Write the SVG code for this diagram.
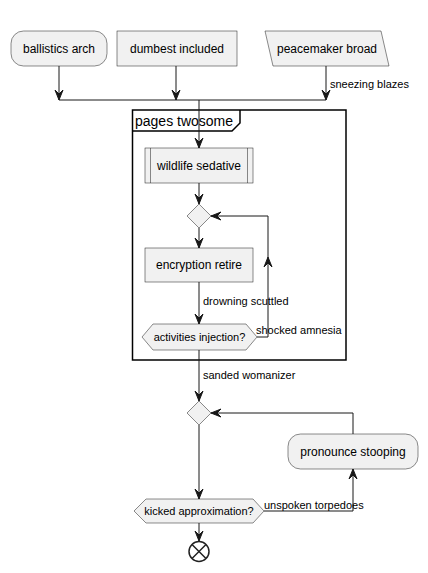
<svg xmlns="http://www.w3.org/2000/svg" width="428" height="573" viewBox="0 0 428 573">
<style>
.n{fill:#F1F1F1;stroke:#181818;stroke-width:0.5}
.t{font-family:"Liberation Sans",Arial,sans-serif;font-size:12px;fill:#000;text-anchor:middle}
.s{font-family:"Liberation Sans",Arial,sans-serif;font-size:11px;fill:#000}
.l{fill:none;stroke:#181818;stroke-width:1}
.h{fill:#181818;stroke:#181818;stroke-width:1}
</style>
<defs>
<path id="ad" d="M-4,-10 L0,0 L4,-10 L0,-6 Z"/>
</defs>
<rect width="428" height="573" fill="#FFFFFF"/>
<g id="frame">
<rect x="132.5" y="110" width="213.5" height="250" fill="none" stroke="#000" stroke-width="1.5"/>
<path d="M132.5,131 L232,131 L240,123 L240,110" fill="none" stroke="#000" stroke-width="1.5"/>
<text x="135" y="126" style="font-family:'Liberation Sans',Arial,sans-serif;font-size:14px">pages twosome</text>
</g>
<g id="connectors">
<path class="l" d="M59,66 V100 M176,66 V100 M326,66 V100 M59,100 H326 M199,100 V148"/>
<path class="l" d="M199,183 V204 M199,228 V248 M199,282 V324"/>
<path class="l" d="M257,337 H268 V216 H211"/>
<path class="l" d="M199,350 V401 M199,425 V499 M199,523 V541"/>
<path class="l" d="M264,511 H353 V469 M353,434 V413 H211"/>
<use href="#ad" class="h" transform="translate(59,100)"/>
<use href="#ad" class="h" transform="translate(176,100)"/>
<use href="#ad" class="h" transform="translate(326,100)"/>
<use href="#ad" class="h" transform="translate(199,148)"/>
<use href="#ad" class="h" transform="translate(199,204)"/>
<use href="#ad" class="h" transform="translate(199,248)"/>
<use href="#ad" class="h" transform="translate(199,324)"/>
<use href="#ad" class="h" transform="translate(268,257) rotate(180)"/>
<use href="#ad" class="h" transform="translate(211,216) rotate(90)"/>
<use href="#ad" class="h" transform="translate(199,401)"/>
<use href="#ad" class="h" transform="translate(199,499)"/>
<use href="#ad" class="h" transform="translate(199,541)"/>
<use href="#ad" class="h" transform="translate(353,469) rotate(180)"/>
<use href="#ad" class="h" transform="translate(211,413) rotate(90)"/>
<text class="s" x="330" y="88">sneezing blazes</text>
<text class="s" x="203" y="305">drowning scuttled</text>
<text class="s" x="256" y="334">shocked amnesia</text>
<text class="s" x="203" y="379">sanded womanizer</text>
<text class="s" x="264" y="509">unspoken torpedoes</text>
</g>
<g id="ballistics-arch">
<rect class="n" x="11" y="31" width="96" height="35" rx="12.5"/>
<text class="t" x="59" y="53">ballistics arch</text>
</g>
<g id="dumbest-included">
<rect class="n" x="117" y="31" width="120" height="35"/>
<text class="t" x="177" y="53">dumbest included</text>
</g>
<g id="peacemaker-broad">
<polygon class="n" points="265,31 381,31 389,66 273,66"/>
<text class="t" x="327" y="53">peacemaker broad</text>
</g>
<g id="wildlife-sedative">
<rect class="n" x="145" y="148" width="108" height="35"/>
<path class="n" d="M150.5,148 V183 M247.5,148 V183" fill="none"/>
<text class="t" x="199" y="170">wildlife sedative</text>
</g>
<g id="merge1">
<polygon class="n" points="199,204 211,216 199,228 187,216"/>
</g>
<g id="encryption-retire">
<rect class="n" x="145" y="248" width="108" height="34"/>
<text class="t" x="199" y="269">encryption retire</text>
</g>
<g id="activities-injection">
<polygon class="n" points="142,337 153,324 246,324 257,337 246,350 153,350"/>
<text class="s" x="199.5" y="341" text-anchor="middle">activities injection?</text>
</g>
<g id="merge2">
<polygon class="n" points="199,401 211,413 199,425 187,413"/>
</g>
<g id="pronounce-stooping">
<rect class="n" x="288" y="434" width="130" height="35" rx="12.5"/>
<text class="t" x="353" y="456">pronounce stooping</text>
</g>
<g id="kicked-approximation">
<polygon class="n" points="134,511 146,499 253,499 264,511 253,523 146,523"/>
<text class="s" x="199" y="515" text-anchor="middle">kicked approximation?</text>
</g>
<g id="end">
<circle cx="199" cy="551.5" r="10" fill="none" stroke="#222" stroke-width="1.5"/>
<path d="M192,544.5 L206,558.5 M206,544.5 L192,558.5" stroke="#222" stroke-width="1.5"/>
</g>
</svg>
